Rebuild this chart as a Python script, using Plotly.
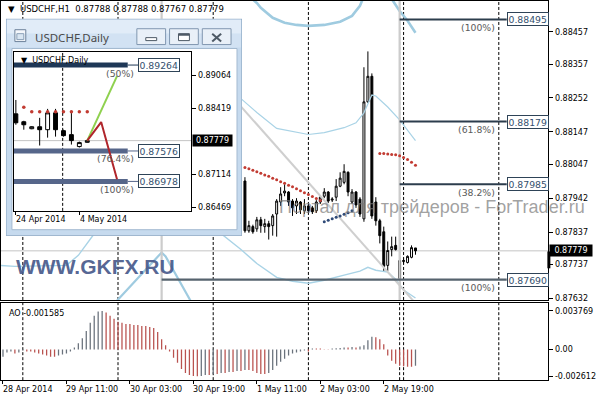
import plotly.graph_objects as go

# ---------------- data ----------------
# H1 bars: index 0 = 28 Apr 19:00 (one bar per hour). Bars < 61 lie under the inset window.
h1_index = list(range(61, 105))
h1_open = [0.87995, 0.87841, 0.87854, 0.87847, 0.87875, 0.87854, 0.87863, 0.87857, 0.87893, 0.87930,
           0.87958, 0.87961, 0.87933, 0.87918, 0.87930, 0.87903, 0.87918, 0.87912, 0.87903, 0.87930,
           0.87948, 0.87961, 0.87936, 0.87945, 0.87979, 0.87991, 0.88022, 0.87930, 0.87961, 0.87939,
           0.87878, 0.88240, 0.88319, 0.87930, 0.87872, 0.87838, 0.87734, 0.87783, 0.87796, 0.87694,
           0.87746, 0.87743, 0.87759, 0.87788]
h1_high = [0.88007, 0.87872, 0.87860, 0.87884, 0.87884, 0.87878, 0.87872, 0.87893, 0.87939, 0.87976,
           0.87985, 0.87964, 0.87939, 0.87942, 0.87933, 0.87939, 0.87924, 0.87918, 0.87936, 0.87948,
           0.87973, 0.87964, 0.87945, 0.88001, 0.88022, 0.88047, 0.88025, 0.87970, 0.87964, 0.87945,
           0.88347, 0.88396, 0.88328, 0.87945, 0.87878, 0.87854, 0.87808, 0.87823, 0.87823, 0.87765,
           0.87756, 0.87765, 0.87796, 0.87788]
h1_low = [0.87835, 0.87835, 0.87832, 0.87838, 0.87835, 0.87835, 0.87814, 0.87826, 0.87823, 0.87918,
          0.87948, 0.87918, 0.87887, 0.87893, 0.87893, 0.87893, 0.87896, 0.87893, 0.87896, 0.87924,
          0.87942, 0.87927, 0.87930, 0.87933, 0.87976, 0.87985, 0.87948, 0.87924, 0.87912, 0.87884,
          0.87869, 0.88237, 0.87878, 0.87857, 0.87802, 0.87716, 0.87716, 0.87762, 0.87780, 0.87664,
          0.87740, 0.87740, 0.87756, 0.87767]
h1_close = [0.87841, 0.87857, 0.87838, 0.87875, 0.87857, 0.87863, 0.87854, 0.87887, 0.87933, 0.87955,
            0.87964, 0.87930, 0.87912, 0.87933, 0.87906, 0.87918, 0.87903, 0.87900, 0.87930, 0.87945,
            0.87961, 0.87933, 0.87939, 0.87979, 0.88004, 0.88025, 0.87961, 0.87961, 0.87921, 0.87893,
            0.88240, 0.88319, 0.87887, 0.87872, 0.87826, 0.87731, 0.87780, 0.87792, 0.87783, 0.87749,
            0.87749, 0.87762, 0.87789, 0.87779]
current_price = 0.87779
header_text = "▼  USDCHF,H1  0.87788 0.87788 0.87767 0.87779"

# Awesome Oscillator, bars 0..104
ao_values = [-0.0007, -0.0003, -0.0002, -0.0004, -0.0003, -0.0001, -0.0002, -0.0002, -0.0003, -0.0004,
             -0.0005, -0.0006, -0.0007, -0.0007, -0.0006, -0.0005, -0.0004, -0.0002, 0.0002, 0.0006,
             0.0011, 0.0018, 0.0026, 0.0033, 0.0037, 0.003769, 0.0036, 0.0033, 0.0030, 0.0027,
             0.0026, 0.0025, 0.0025, 0.0024, 0.0024, 0.0023, 0.0023, 0.0022, 0.0021, 0.0017,
             0.0010, 0.0004, -0.0002, -0.0008, -0.0013, -0.0019, -0.0023, -0.0025, -0.0026, -0.002612,
             -0.0026, -0.0025, -0.0025, -0.0024, -0.0024, -0.0023, -0.0023, -0.0022, -0.0022, -0.0021,
             -0.0021, -0.0020, -0.0020, -0.0021, -0.0023, -0.0024, -0.0024, -0.0023, -0.0020, -0.0016,
             -0.0012, -0.0009, -0.0006, -0.0004, -0.0003, -0.0002, -0.0001, -0.0002, 0.0001, 0.0001,
             0.0001, 0.00003, 0.00003, 0.0001, 0.00012, 0.00015, 0.0002, 0.0002, 0.00025, 0.0002,
             0.0003, 0.0004, 0.0009, 0.00125, 0.0012, 0.0010, 0.0005, -0.0006, -0.0011, -0.0014,
             -0.0016, -0.00165, -0.0017, -0.0017, -0.001585]
ao_label = "AO -0.001585"

# light-blue band lines (bar index, price)
bb_thin_upper_i = [60, 64, 69, 73, 77, 81, 86, 89, 91, 93, 94, 97, 100, 104]
bb_thin_upper = [0.88250, 0.88207, 0.88158, 0.88148, 0.88139, 0.88145, 0.88160, 0.88175, 0.88206, 0.88261,
                 0.88258, 0.88224, 0.88184, 0.88120]
bb_thin_lower_i = [-1, 3, 16, 19, 23, 55, 60, 64, 69, 73, 77, 81, 86, 90, 92, 94, 97, 99, 101, 104]
bb_thin_lower = [0.87734, 0.87731, 0.87734, 0.87765, 0.87832, 0.87832, 0.87783, 0.87740, 0.87697, 0.87685,
                 0.87679, 0.87688, 0.87704, 0.87716, 0.87728, 0.87719, 0.87713, 0.87691, 0.87658, 0.87633]
bb_wide_upper_i = [62, 64, 65, 68, 71, 74, 77, 81, 85, 88, 90, 91, 97, 99, 100, 102, 104]
bb_wide_upper = [0.88567, 0.88546, 0.88531, 0.88500, 0.88485, 0.88478, 0.88475, 0.88478, 0.88488, 0.88506,
                 0.88537, 0.88567, 0.88577, 0.88537, 0.88521, 0.88491, 0.88454]
bb_wide_lower_i = [28, 34, 40, 41, 47, 48]
bb_wide_lower = [0.87615, 0.87694, 0.87774, 0.87762, 0.87633, 0.87609]

# grey trend line and grey vertical lines
trend_i = [55, 105]
trend_p = [0.88295, 0.87603]
grey_vlines = [40, 100]

# dotted stop levels
red_dots1_i = list(range(61, 81))
red_dots1 = [0.88037, 0.88033, 0.88028, 0.88024, 0.88019, 0.88014, 0.88010, 0.88004, 0.87999, 0.87993,
             0.87988, 0.87982, 0.87977, 0.87971, 0.87965, 0.87959, 0.87953, 0.87947, 0.87941, 0.87935]
blue_dots_i = list(range(81, 89))
blue_dots = [0.87869, 0.87874, 0.87878, 0.87883, 0.87887, 0.87892, 0.87897, 0.87903]
red_dots2_i = list(range(95, 105))
red_dots2 = [0.88080, 0.88080, 0.88079, 0.88077, 0.88076, 0.88073, 0.88068, 0.88062, 0.88053, 0.88044]

# Fibonacci levels on H1
fib_levels = [0.88495, 0.88179, 0.87985, 0.87690]
fib_pct = ["(100%)", "(61.8%)", "(38.2%)", "(100%)"]
fib_start = [100, 100, 100, 40]
fib_end = 127
fib_colors = ["#2c3d4d", "#2c3d4d", "#2c3d4d", "#56636e"]

# period separators
separators = [5, 29, 53, 77, 100, 101, 125]

# axes
main_ticks = [0.88457, 0.88357, 0.88252, 0.88147, 0.88047, 0.87942, 0.87837, 0.87737, 0.87632]
ao_ticks = [0.003769, 0.0, -0.002612]
ao_ticktext = ["0.003769", "0.00", "-0.002612"]
time_idx = [0, 16, 32, 48, 64, 80, 96]
time_labels = ["28 Apr 2014", "29 Apr 11:00", "30 Apr 03:00", "30 Apr 19:00",
               "1 May 11:00", "2 May 03:00", "2 May 19:00"]

# ---------- inset: USDCHF, Daily ----------
d1_index = list(range(10))
d1_open = [0.88305, 0.88150, 0.88013, 0.88052, 0.87994, 0.88325, 0.87975, 0.87897, 0.87663, 0.87746]
d1_high = [0.88578, 0.88169, 0.88062, 0.88227, 0.88403, 0.88403, 0.87994, 0.88364, 0.87760, 0.87796]
d1_low = [0.88091, 0.87994, 0.88003, 0.87683, 0.87838, 0.87858, 0.87858, 0.87702, 0.87643, 0.87740]
d1_close = [0.88130, 0.88091, 0.88052, 0.87994, 0.88325, 0.87994, 0.87877, 0.87780, 0.87741, 0.87779]
d1_dots_i = list(range(1, 10))
d1_dots = [0.88436, 0.88348, 0.88348, 0.88348, 0.88348, 0.88348, 0.88348, 0.88348, 0.88348]
d1_fib_levels = [0.89264, 0.87576, 0.86978]
d1_fib_pct = ["(50%)", "(76.4%)", "(100%)"]
d1_fib_colors = ["#1e3756", "#56668a", "#56668a"]
d1_fib_end = 14.1
d1_green_i = [9, 12.75]
d1_green = [0.87779, 0.89045]
d1_red_i = [9, 10.75, 12.75]
d1_red = [0.87779, 0.88144, 0.87021]
d1_ticks = [0.89064, 0.88419, 0.87114, 0.86469]
d1_separator = 5.9
d1_time_idx = [-0.25, 7.85]
d1_time_labels = ["24 Apr 2014", "4 May 2014"]

# ---------------- figure ----------------
W, H = 596, 400
def fx(px):
    return px / W
def fy(py):
    return 1 - py / H

FONT = "DejaVu Sans"
fig = go.Figure()

# --- main panel lines (under candles)
fig.add_trace(go.Scatter(x=bb_wide_upper_i, y=bb_wide_upper, mode="lines",
                         line=dict(color="#9fcbe0", width=2.6), xaxis="x", yaxis="y"))
fig.add_trace(go.Scatter(x=bb_wide_lower_i, y=bb_wide_lower, mode="lines",
                         line=dict(color="#9fcbe0", width=2.2), xaxis="x", yaxis="y"))
fig.add_trace(go.Scatter(x=bb_thin_upper_i, y=bb_thin_upper, mode="lines",
                         line=dict(color="#a9d3e6", width=1.2), xaxis="x", yaxis="y"))
fig.add_trace(go.Scatter(x=bb_thin_lower_i, y=bb_thin_lower, mode="lines",
                         line=dict(color="#a9d3e6", width=1.4), xaxis="x", yaxis="y"))
fig.add_trace(go.Scatter(x=trend_i, y=trend_p, mode="lines",
                         line=dict(color="#cfcfcf", width=2), xaxis="x", yaxis="y"))
for v in grey_vlines:
    fig.add_trace(go.Scatter(x=[v, v], y=[0.8755, 0.8865], mode="lines",
                             line=dict(color="#cccccc", width=2.2), xaxis="x", yaxis="y"))
for lvl, st, col in zip(fib_levels, fib_start, fib_colors):
    fig.add_trace(go.Scatter(x=[st, fib_end], y=[lvl, lvl], mode="lines",
                             line=dict(color=col, width=2.4 if col != "#2c3d4d" else 2),
                             xaxis="x", yaxis="y"))

fig.add_trace(go.Candlestick(
    x=h1_index, open=h1_open, high=h1_high, low=h1_low, close=h1_close,
    increasing=dict(line=dict(color="black", width=1), fillcolor="white"),
    decreasing=dict(line=dict(color="black", width=1), fillcolor="black"),
    whiskerwidth=0, xaxis="x", yaxis="y", hoverinfo="skip"))

fig.add_trace(go.Scatter(x=red_dots1_i, y=red_dots1, mode="markers",
                         marker=dict(color="#c23b32", size=3), xaxis="x", yaxis="y"))
fig.add_trace(go.Scatter(x=red_dots2_i, y=red_dots2, mode="markers",
                         marker=dict(color="#c23b32", size=3), xaxis="x", yaxis="y"))
fig.add_trace(go.Scatter(x=blue_dots_i, y=blue_dots, mode="markers",
                         marker=dict(color="#2f4a78", size=3), xaxis="x", yaxis="y"))

# --- AO panel
ao_idx = list(range(len(ao_values)))
ao_colors = ["#6a727c" if (i == 0 or ao_values[i] > ao_values[i - 1]) else "#b9524f"
             for i in ao_idx]
fig.add_trace(go.Bar(x=ao_idx, y=ao_values, marker=dict(color=ao_colors, line=dict(width=0)),
                     width=0.32, xaxis="x2", yaxis="y2"))

# --- cover subplot for the inset window (background hides the main chart)
fig.add_trace(go.Scatter(x=[5], y=[18], mode="markers", marker=dict(opacity=0),
                         xaxis="x3", yaxis="y3", hoverinfo="skip"))

# --- inset chart
for lvl, col in zip(d1_fib_levels, d1_fib_colors):
    fig.add_trace(go.Scatter(x=[-0.25, d1_fib_end], y=[lvl, lvl], mode="lines",
                             line=dict(color=col, width=5), xaxis="x4", yaxis="y4"))
    fig.add_trace(go.Scatter(x=[d1_fib_end, 15.4], y=[lvl, lvl], mode="lines",
                             line=dict(color=col, width=1), xaxis="x4", yaxis="y4"))
fig.add_trace(go.Scatter(x=d1_dots_i, y=d1_dots, mode="markers",
                         marker=dict(color="#c23b32", size=3.5), xaxis="x4", yaxis="y4"))
fig.add_trace(go.Candlestick(
    x=d1_index, open=d1_open, high=d1_high, low=d1_low, close=d1_close,
    increasing=dict(line=dict(color="black", width=1), fillcolor="white"),
    decreasing=dict(line=dict(color="black", width=1), fillcolor="black"),
    whiskerwidth=0, xaxis="x4", yaxis="y4", hoverinfo="skip"))
fig.add_trace(go.Scatter(x=d1_green_i, y=d1_green, mode="lines",
                         line=dict(color="#8fd14f", width=2), xaxis="x4", yaxis="y4"))
fig.add_trace(go.Scatter(x=d1_red_i, y=d1_red, mode="lines",
                         line=dict(color="#b0262c", width=2), xaxis="x4", yaxis="y4"))

# ---------------- shapes ----------------
shapes = []
MAIN_Y = [fy(302), fy(0)]
AO_Y = [fy(383), fy(305)]
for s in separators:
    shapes.append(dict(type="line", xref="x", yref="paper", x0=s, x1=s, y0=MAIN_Y[0], y1=MAIN_Y[1],
                       line=dict(color="black", width=1, dash="3px,2px"), layer="below"))
    shapes.append(dict(type="line", xref="x2", yref="paper", x0=s, x1=s, y0=AO_Y[0], y1=AO_Y[1],
                       line=dict(color="black", width=1, dash="3px,2px"), layer="below"))
shapes.append(dict(type="line", xref="paper", yref="y", x0=0, x1=fx(552), y0=current_price,
                   y1=current_price, line=dict(color="#c4c4c4", width=1), layer="below"))
# small dark marker on the price scale edge
shapes.append(dict(type="rect", xref="paper", yref="paper", x0=fx(551), x1=fx(554), y0=fy(270),
                   y1=fy(253), fillcolor="black", line=dict(width=0), layer="above"))

# inset window frame (cover subplot uses pixel coordinates)
def rect(x0, y0, x1, y1, fill, line_col=None, lw=1):
    return dict(type="rect", xref="x3", yref="y3", x0=x0, y0=y0, x1=x1, y1=y1, fillcolor=fill,
                line=dict(color=line_col or fill, width=lw if line_col else 0), layer="below")
shapes += [
    rect(5, 18, 243, 237, "#c6daee", "#7f9cba"),
    rect(6, 19, 242, 33, "#e1ecf8"),
    rect(6, 33, 242, 47, "#d2e2f3"),
    rect(11, 48, 238, 231, "white", "#a3b9d0"),
    rect(137, 28, 166, 44, "#e9f0f8", "#8197b0"),
    rect(170, 28, 199, 44, "#e9f0f8", "#8197b0"),
    rect(203, 28, 232, 44, "#e9f0f8", "#8197b0"),
    rect(146, 37, 157, 40, "white", "#4e5a66"),
    rect(179, 33, 190, 40, "white", "#4e5a66"),
    rect(14, 29, 25, 41, "#f4f7fb", "#6d829b"),
    rect(16, 33, 23, 39, "#d9e6f2", "#8aa0b8"),
    rect(190, 160, 192, 168, "black"),
]
shapes.append(dict(type="line", xref="x3", yref="y3", x0=179, x1=190, y0=34, y1=34,
                   line=dict(color="#4e5a66", width=2), layer="below"))
shapes.append(dict(type="line", xref="x3", yref="y3", x0=213, x1=222, y0=33, y1=41,
                   line=dict(color="#4e5a66", width=2), layer="below"))
shapes.append(dict(type="line", xref="x3", yref="y3", x0=213, x1=222, y0=41, y1=33,
                   line=dict(color="#4e5a66", width=2), layer="below"))
# inset internal lines
shapes.append(dict(type="line", xref="x4", yref="y4", x0=-0.25, x1=22.125, y0=current_price,
                   y1=current_price, line=dict(color="#c4c4c4", width=1), layer="below"))
shapes.append(dict(type="line", xref="x4", yref="y4", x0=d1_separator, x1=d1_separator,
                   y0=0.86399, y1=0.89511, line=dict(color="black", width=1, dash="3px,2px"),
                   layer="below"))

# ---------------- annotations ----------------
ann = []
ann.append(dict(text=header_text, x=fx(5), y=fy(8), xref="paper", yref="paper", xanchor="left",
                yanchor="middle", showarrow=False, font=dict(size=8.5, color="black", family=FONT)))
for lvl, pct in zip(fib_levels, fib_pct):
    ann.append(dict(text=f"{lvl:.5f}", x=fib_end, y=lvl, xref="x", yref="y", xanchor="left",
                    yanchor="middle", showarrow=False, bgcolor="white", bordercolor="#2e4357",
                    borderwidth=1, borderpad=0.5, font=dict(size=9.3, color="#34506e", family=FONT)))
    ann.append(dict(text=pct, x=124.5, y=lvl, xref="x", yref="y", xanchor="right",
                    yanchor="middle", yshift=-8, showarrow=False,
                    font=dict(size=9.3, color="#5a5a5a", family=FONT)))
ann.append(dict(text=f"{current_price:.5f}", x=fx(553), y=current_price, xref="paper", yref="y",
                xanchor="left", yanchor="middle", showarrow=False, bgcolor="black",
                borderpad=1, width=40, align="center", font=dict(size=8, color="white", family=FONT)))
ann.append(dict(text="Портал для трейдеров - ForTrader.ru", x=fx(278), y=fy(208), xref="paper",
                yref="paper", xanchor="left", yanchor="middle", showarrow=False,
                font=dict(size=18, color="rgba(120,120,120,0.7)", family="Liberation Sans")))
ann.append(dict(text="<b>WWW.GKFX.RU</b>", x=fx(13), y=fy(268), xref="paper", yref="paper",
                xanchor="left", yanchor="middle", showarrow=False,
                font=dict(size=21, color="rgba(70,88,138,0.92)", family="Liberation Sans")))
ann.append(dict(text=ao_label, x=fx(6), y=fy(316), xref="paper", yref="paper", xanchor="left",
                yanchor="middle", showarrow=False, font=dict(size=8, color="black", family=FONT)))
for i, t in zip(time_idx, time_labels):
    ann.append(dict(text=t, x=i, y=fy(392), xref="x2", yref="paper", xanchor="left", xshift=-2,
                    yanchor="middle", showarrow=False, font=dict(size=8, color="black", family=FONT)))
# inset texts
ann.append(dict(text="USDCHF,Daily", x=32, y=37, xref="x3", yref="y3", xanchor="left",
                yanchor="middle", showarrow=False, font=dict(size=11.5, color="#4a4a4a", family="Noto Sans")))
ann.append(dict(text="▼  USDCHF,Daily", x=fx(18), y=fy(60), xref="paper", yref="paper",
                xanchor="left", yanchor="middle", showarrow=False,
                font=dict(size=8, color="black", family=FONT)))
for lvl, pct in zip(d1_fib_levels, d1_fib_pct):
    ann.append(dict(text=f"{lvl:.5f}", x=15.4, y=lvl, xref="x4", yref="y4", xanchor="left",
                    yanchor="middle", showarrow=False, bgcolor="white", bordercolor="#2e4357",
                    borderwidth=1, borderpad=0.5, font=dict(size=9.3, color="#34506e", family=FONT)))
    ann.append(dict(text=pct, x=15.2, y=lvl, xref="x4", yref="y4", xanchor="right",
                    yanchor="middle", yshift=-8, showarrow=False,
                    font=dict(size=9.3, color="#5a5a5a", family=FONT)))
ann.append(dict(text=f"{current_price:.5f}", x=fx(193), y=current_price, xref="paper", yref="y4",
                xanchor="left", yanchor="middle", showarrow=False, bgcolor="black",
                borderpad=1, width=37, align="center", font=dict(size=8, color="white", family=FONT)))
for k, t in zip(d1_time_idx, d1_time_labels):
    ann.append(dict(text=t, x=k, y=fy(221), xref="x4", yref="paper", xanchor="left",
                    yanchor="middle", showarrow=False, font=dict(size=8, color="black", family=FONT)))

axis_common = dict(showgrid=False, zeroline=False, showline=True, mirror=True,
                   linecolor="black", linewidth=1)
fig.update_layout(
    width=W, height=H, margin=dict(l=0, r=0, t=0, b=0),
    paper_bgcolor="white", plot_bgcolor="white", showlegend=False, hovermode=False,
    font=dict(family=FONT, size=8, color="black"),
    xaxis=dict(domain=[0, fx(552)], range=[-0.5, 137.5], showticklabels=False, ticks="",
               rangeslider=dict(visible=False), anchor="y", **axis_common),
    yaxis=dict(domain=[fy(302), 1], range=[0.87627, 0.88552], side="right", tickvals=main_ticks,
               ticktext=[f"{v:.5f}" for v in main_ticks], ticks="outside", ticklen=4,
               tickcolor="black", tickfont=dict(size=8), anchor="x", **axis_common),
    xaxis2=dict(domain=[0, fx(552)], range=[-0.5, 137.5], showticklabels=False, ticks="outside",
                ticklen=3, tickvals=time_idx, tickcolor="black", anchor="y2", **axis_common),
    yaxis2=dict(domain=[fy(383), fy(305)], range=[-0.0030, 0.004545], side="right",
                tickvals=ao_ticks, ticktext=ao_ticktext, ticks="outside", ticklen=4,
                tickcolor="black", tickfont=dict(size=8), anchor="x2", **axis_common),
    xaxis3=dict(domain=[fx(5), fx(243)], range=[5, 243], visible=False, anchor="y3"),
    yaxis3=dict(domain=[fy(237), fy(18)], range=[237, 18], visible=False, anchor="x3"),
    xaxis4=dict(domain=[fx(13), fx(192)], range=[-0.25, 22.125], showticklabels=False,
                ticks="outside", ticklen=3, tickvals=[0, 8], tickcolor="black",
                rangeslider=dict(visible=False), anchor="y4", **axis_common),
    yaxis4=dict(domain=[fy(212), fy(52)], range=[0.86399, 0.89511], side="right",
                tickvals=d1_ticks, ticktext=[f"{v:.5f}" for v in d1_ticks], ticks="outside",
                ticklen=4, tickcolor="black", tickfont=dict(size=8), anchor="x4", **axis_common),
    shapes=shapes, annotations=ann,
)

fig.write_html("out.html", config={"displayModeBar": False, "staticPlot": True},
               post_script="document.body.style.margin='0';")
